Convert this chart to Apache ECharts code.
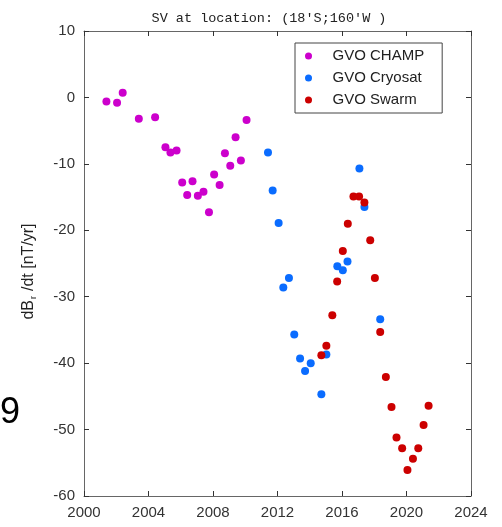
<!DOCTYPE html>
<html><head><meta charset="utf-8">
<script src="https://cdn.jsdelivr.net/npm/echarts@6/dist/echarts.min.js"></script>
<style>html,body{margin:0;padding:0;background:#fff}#c{width:502px;height:527px}</style>
</head><body><div id="c"></div>
<script>
const champYears = [2001.39,2002.05,2002.40,2003.40,2004.41,2005.05,2005.36,2005.74,2006.09,2006.40,2006.73,2007.06,2007.41,2007.75,2008.07,2008.41,2008.74,2009.07,2009.40,2009.73,2010.08];
const champValues = [-0.6,-0.8,0.7,-3.2,-3.0,-7.5,-8.3,-8.0,-12.8,-14.7,-12.6,-14.8,-14.2,-17.3,-11.6,-13.2,-8.4,-10.3,-6.0,-9.5,-3.4];
const cryoYears = [2011.41,2011.70,2012.07,2012.36,2012.71,2013.04,2013.40,2013.71,2014.06,2014.72,2015.03,2015.71,2016.05,2016.34,2017.08,2017.39,2018.37];
const cryoValues = [-8.3,-14.0,-18.9,-28.6,-27.2,-35.7,-39.3,-41.2,-40.0,-44.7,-38.7,-25.4,-26.0,-24.7,-10.7,-16.5,-33.4];
const swarmYears = [2014.72,2015.03,2015.40,2015.70,2016.05,2016.36,2016.71,2017.06,2017.39,2017.75,2018.04,2018.37,2018.72,2019.07,2019.38,2019.73,2020.06,2020.40,2020.73,2021.06,2021.37];
const swarmValues = [-38.8,-37.4,-32.8,-27.7,-23.1,-19.0,-14.9,-14.9,-15.8,-21.5,-27.2,-35.3,-42.1,-46.6,-51.2,-52.8,-56.1,-54.4,-52.8,-49.3,-46.4];
const seriesNames = ['GVO CHAMP','GVO Cryosat','GVO Swarm'];
const titleText = 'SV at location: (18′S;160′W )';

const zip = (a,b) => a.map((v,i)=>[v,b[i]]);
const chart = echarts.init(document.getElementById('c'), null, {renderer:'canvas'});
const axisCommon = {
  axisLine:{show:true,onZero:false,lineStyle:{color:'#666',width:1}},
  axisTick:{show:true,inside:true,length:5,lineStyle:{color:'#333'}},
  splitLine:{show:false}
};
chart.setOption({
  animation:false,
  title:{text:titleText,left:264,top:6,textAlign:'center',textStyle:{fontFamily:'Liberation Mono',fontSize:13.5,fontWeight:'normal',color:'#222'}},
  grid:{left:84,right:31,top:31,bottom:31,containLabel:false},
  legend:{
    orient:'vertical',left:295,top:43,
    icon:'circle',itemWidth:38,itemHeight:7,itemGap:6,
    padding:[5,18,5,10],
    borderColor:'#444',borderWidth:1,backgroundColor:'#fff',
    textStyle:{fontFamily:'Liberation Sans',fontSize:15,color:'#222',lineHeight:16}
  },
  xAxis:[
    Object.assign({type:'value',min:2000,max:2024,interval:4,position:'bottom',
      axisLabel:{margin:9,fontFamily:'Liberation Sans',fontSize:15,color:'#333',formatter:v=>String(v)}},axisCommon),
    Object.assign({type:'value',min:2000,max:2024,interval:4,position:'top',axisLabel:{show:false}},axisCommon)
  ],
  yAxis:[
    Object.assign({type:'value',min:-60,max:10,interval:10,position:'left',
      name:'{n|dB}{s|r}{n|/dt [nT/yr]}',nameLocation:'middle',nameGap:46,
      nameTextStyle:{fontFamily:'Liberation Sans',fontSize:16,color:'#222',padding:[0,16,0,0],
        rich:{
          n:{fontFamily:'Liberation Sans',fontSize:16,color:'#222',lineHeight:18,verticalAlign:'middle'},
          s:{fontFamily:'Liberation Sans',fontSize:9,color:'#222',lineHeight:18,verticalAlign:'bottom',padding:[0,5,0,1]}
        }},
      axisLabel:{margin:9,fontFamily:'Liberation Sans',fontSize:15,color:'#333'}},axisCommon),
    Object.assign({type:'value',min:-60,max:10,interval:10,position:'right',axisLabel:{show:false}},axisCommon)
  ],
  series:[
    {name:seriesNames[0],type:'scatter',data:zip(champYears,champValues),symbolSize:8,itemStyle:{color:'#cc00cc',opacity:1}},
    {name:seriesNames[1],type:'scatter',data:zip(cryoYears,cryoValues),symbolSize:8,itemStyle:{color:'#0a6cff',opacity:1}},
    {name:seriesNames[2],type:'scatter',data:zip(swarmYears,swarmValues),symbolSize:8,itemStyle:{color:'#cc0000',opacity:1}}
  ],
  graphic:[{type:'text',left:0,top:395,style:{text:'9',fontFamily:'Liberation Sans',fontSize:36,fill:'#000'}}]
});
</script></body></html>
